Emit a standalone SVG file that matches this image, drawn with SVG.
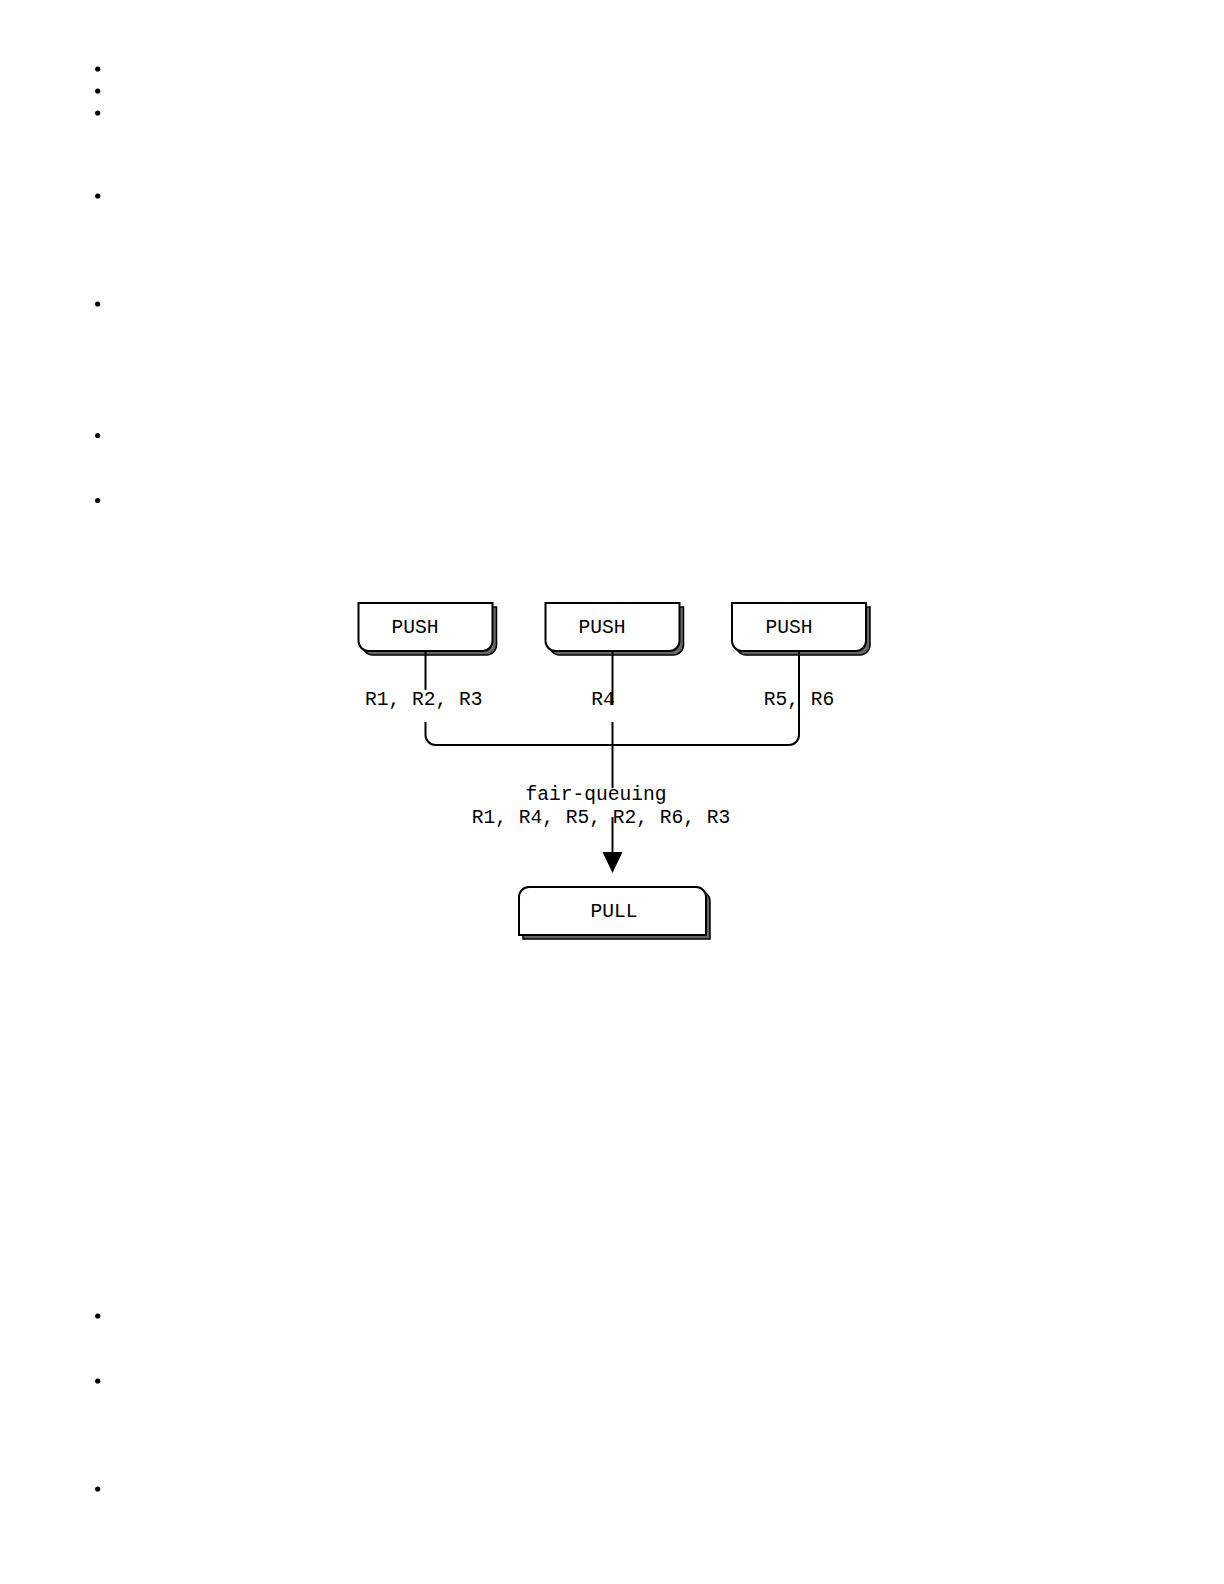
<svg xmlns="http://www.w3.org/2000/svg" width="1224" height="1584" viewBox="0 0 1224 1584">
<style>
.bg{fill:#fff}
.bullet{fill:#000}
.box{fill:#fff;stroke:#000;stroke-width:2}
.shadow{fill:#666;stroke:#000;stroke-width:1.5}
.t{font-family:"Liberation Mono","DejaVu Sans Mono",monospace;font-size:19.6px;fill:#000;text-anchor:middle}
.edge{fill:none;stroke:#000;stroke-width:2}
</style>
<rect class="bg" x="0" y="0" width="1224" height="1584"/>
<g id="bullets">
<circle class="bullet" cx="97.7" cy="69" r="2.6"/>
<circle class="bullet" cx="97.7" cy="91" r="2.6"/>
<circle class="bullet" cx="97.7" cy="113" r="2.6"/>
<circle class="bullet" cx="97.7" cy="196" r="2.6"/>
<circle class="bullet" cx="97.7" cy="304" r="2.6"/>
<circle class="bullet" cx="97.7" cy="435.5" r="2.6"/>
<circle class="bullet" cx="97.7" cy="500.5" r="2.6"/>
<circle class="bullet" cx="97.7" cy="1316" r="2.6"/>
<circle class="bullet" cx="97.7" cy="1381" r="2.6"/>
<circle class="bullet" cx="97.7" cy="1489" r="2.6"/>
</g>
<g id="push1">
<path class="shadow" d="M362.5,607 H496.5 V645 A10,10 0 0 1 486.5,655 H372.5 A10,10 0 0 1 362.5,645 Z"/>
<path class="box" d="M358.5,603 H492.5 V641 A10,10 0 0 1 482.5,651 H368.5 A10,10 0 0 1 358.5,641 Z"/>
<text class="t" x="415" y="633">PUSH</text>
</g>
<g id="push2">
<path class="shadow" d="M549.5,607 H683.5 V645 A10,10 0 0 1 673.5,655 H559.5 A10,10 0 0 1 549.5,645 Z"/>
<path class="box" d="M545.5,603 H679.5 V641 A10,10 0 0 1 669.5,651 H555.5 A10,10 0 0 1 545.5,641 Z"/>
<text class="t" x="602" y="633">PUSH</text>
</g>
<g id="push3">
<path class="shadow" d="M736,607 H870 V645 A10,10 0 0 1 860,655 H746 A10,10 0 0 1 736,645 Z"/>
<path class="box" d="M732,603 H866 V641 A10,10 0 0 1 856,651 H742 A10,10 0 0 1 732,641 Z"/>
<text class="t" x="789" y="633">PUSH</text>
</g>
<g id="pull">
<path class="shadow" d="M523,901 A10,10 0 0 1 533,891 H700 A10,10 0 0 1 710,901 V939 H523 Z"/>
<path class="box" d="M519,897 A10,10 0 0 1 529,887 H696 A10,10 0 0 1 706,897 V935 H519 Z"/>
<text class="t" x="614" y="917">PULL</text>
</g>
<g id="connectors">
<path class="edge" d="M425.5,651 V690"/>
<path class="edge" d="M612.5,651 V705"/>
<path class="edge" d="M425.5,722 V735 A10,10 0 0 0 435.5,745 H789 A10,10 0 0 0 799,735 V651"/>
<path class="edge" d="M612.5,722 V788"/>
<path class="edge" d="M612.5,817 V854"/>
<polygon points="602.5,852 622.5,852 612.5,873" fill="#000"/>
<text class="t" x="423.7" y="705">R1, R2, R3</text>
<text class="t" x="603" y="705">R4</text>
<text class="t" x="799" y="705">R5, R6</text>
<text class="t" x="596" y="800">fair-queuing</text>
<text class="t" x="601" y="823">R1, R4, R5, R2, R6, R3</text>
</g>
</svg>
